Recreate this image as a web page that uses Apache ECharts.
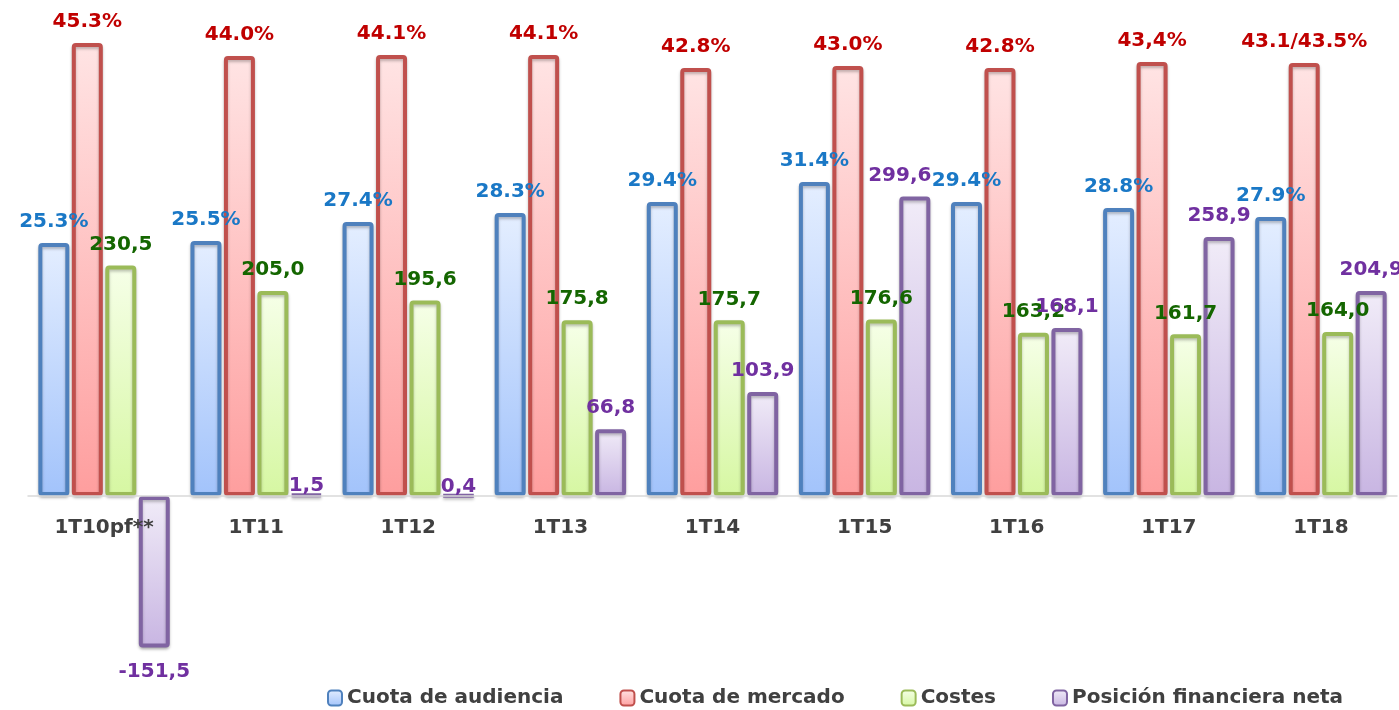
<!DOCTYPE html>
<html>
<head>
<meta charset="utf-8">
<script src="https://cdn.jsdelivr.net/npm/echarts@6/dist/echarts.min.js"></script>
<style>
  html, body { margin: 0; padding: 0; background: #fff; }
  #chart { width: 1399px; height: 710px; }
</style>
</head>
<body>
<div id="chart"></div>
<script>
(function () {
    'use strict';

    var categories = ['1T10pf**', '1T11', '1T12', '1T13', '1T14', '1T15', '1T16', '1T17', '1T18'];

    // cuotas en %
    var cuotaAudiencia = [25.3, 25.5, 27.4, 28.3, 29.4, 31.4, 29.4, 28.8, 27.9];
    var cuotaMercado = [45.3, 44.0, 44.1, 44.1, 42.8, 43.0, 42.8, 43.4, 43.3];
    var cuotaMercadoLabels = ['45.3%', '44.0%', '44.1%', '44.1%', '42.8%', '43.0%', '42.8%', '43,4%', '43.1/43.5%'];

    // millones de euros
    var costes = [230.5, 205.0, 195.6, 175.8, 175.7, 176.6, 163.2, 161.7, 164.0];
    var posicionFinanciera = [-151.5, 1.5, 0.4, 66.8, 103.9, 299.6, 168.1, 258.9, 204.9];

    var FONT = '"DejaVu Sans", Verdana, sans-serif';

    // both value axes share the zero line; 1% == 10 M€ in height
    var pctMin = -16, pctMax = 46;
    var eurMin = -160, eurMax = 460;
    var gridTop = 36, gridBottom = 54;
    var plotHeight = 710 - gridTop - gridBottom;
    var zeroOffset = -plotHeight * (0 - eurMin) / (eurMax - eurMin);

    function grad(top, bottom) {
        return new echarts.graphic.LinearGradient(0, 0, 0, 1, [
            { offset: 0, color: top },
            { offset: 1, color: bottom }
        ]);
    }

    function comma(v) {
        return v.toFixed(1).replace('.', ',');
    }

    function barSeries(name, data, yIndex, fillTop, fillBottom, border, labelColor, fmt, labelShift) {
        return {
            name: name,
            type: 'bar',
            yAxisIndex: yIndex,
            barWidth: 31,
            barGap: '8%',
            data: data.map(function (v, i) {
                var item = { value: v, label: {} };
                if (v < 0) {
                    item.label.position = 'bottom';
                    item.label.distance = 14;
                } else if (v < 5) {
                    item.label.distance = -3;
                }
                if (labelShift && labelShift[i]) {
                    item.label.offset = [labelShift[i], 0];
                }
                return item;
            }),
            itemStyle: {
                color: grad(fillTop, fillBottom),
                borderColor: border,
                borderWidth: 4,
                borderRadius: 2,
                shadowColor: 'rgba(0,0,0,0.25)',
                shadowBlur: 3,
                shadowOffsetY: 2
            },
            label: {
                show: true,
                position: 'top',
                distance: 11,
                color: labelColor,
                fontFamily: FONT,
                fontWeight: 'bold',
                fontSize: 20,
                formatter: fmt
            }
        };
    }

    var myChart = echarts.init(document.getElementById('chart'));

    var option = {
        animation: false,
        backgroundColor: '#fff',
        grid: { left: 28, right: 2, top: gridTop, bottom: gridBottom },
        legend: {
            top: 683,
            left: 322,
            icon: 'roundRect',
            itemWidth: 14,
            itemHeight: 15,
            itemGap: 56,
            textStyle: {
                color: '#404040',
                fontFamily: FONT,
                fontWeight: 'bold',
                fontSize: 20
            },
            data: ['Cuota de audiencia', 'Cuota de mercado', 'Costes', 'Posición financiera neta']
        },
        xAxis: {
            type: 'category',
            data: categories,
            position: 'bottom',
            offset: zeroOffset,
            z: 5,
            axisLine: { onZero: false, lineStyle: { color: '#d9d9d9', width: 1.5 } },
            axisTick: { show: false },
            axisLabel: {
                margin: 22,
                color: '#404040',
                fontFamily: FONT,
                fontWeight: 'bold',
                fontSize: 20
            }
        },
        yAxis: [
            { type: 'value', min: pctMin, max: pctMax, show: false, splitLine: { show: false } },
            { type: 'value', min: eurMin, max: eurMax, show: false, splitLine: { show: false } }
        ],
        series: [
            barSeries('Cuota de audiencia', cuotaAudiencia, 0, '#e4eeff', '#a2c3fb', '#4f81bd', '#1a78c6',
                function (p) { return p.value.toFixed(1) + '%'; }),
            barSeries('Cuota de mercado', cuotaMercado, 0, '#ffe4e4', '#fe9e9e', '#c0504d', '#c00000',
                function (p) { return cuotaMercadoLabels[p.dataIndex]; }),
            barSeries('Costes', costes, 1, '#f6ffe8', '#d6f7a2', '#9bbb59', '#146600',
                function (p) { return comma(p.value); }),
            barSeries('Posición financiera neta', posicionFinanciera, 1, '#f1ecf8', '#c8b5e2', '#8064a2', '#7030a0',
                function (p) { return comma(p.value); }, { 5: -15 })
        ]
    };

    myChart.setOption(option);
})();
</script>
</body>
</html>
